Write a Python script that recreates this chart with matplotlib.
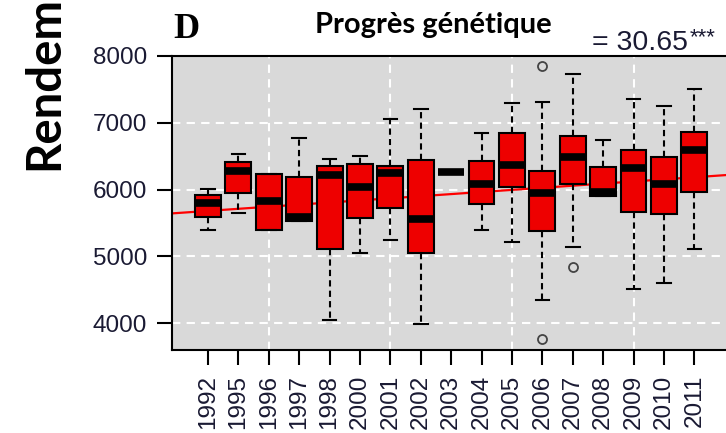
import matplotlib.pyplot as plt
import numpy as np

# rendements par année
annees = [1992, 1995, 1996, 1997, 1998, 2000, 2001, 2002, 2003,
          2004, 2005, 2006, 2007, 2008, 2009, 2010, 2011]
moustache_bas = [5395, 5650, 5395, 5530, 4048, 5051, 5245, 3988, 6264,
                 5395, 5216, 4347, 5141, 5904, 4512, 4602, 5111]
q1 = [5590, 5949, 5395, 5530, 5111, 5575, 5725, 5051, 6264,
      5785, 6039, 5380, 6084, 5904, 5665, 5635, 5964]
mediane = [5800, 6270, 5830, 5590, 6219, 6039, 6249, 5560, 6264,
           6084, 6360, 5949, 6488, 5964, 6323, 6084, 6593]
q3 = [5919, 6413, 6234, 6189, 6353, 6383, 6353, 6443, 6264,
      6428, 6847, 6279, 6802, 6338, 6593, 6488, 6862]
moustache_haut = [6009, 6533, 6234, 6772, 6458, 6503, 7057, 7207, 6264,
                  6847, 7296, 7311, 7731, 6742, 7356, 7251, 7506]
atypiques = {2006: [7850, 3763], 2007: [4841]}

# droite de régression
pente = 31.5
ordonnee = 5648

fig = plt.figure(figsize=(7.26, 4.33), dpi=100)
ax = fig.add_axes([172/726, 83/433, 588/726, 294/433])
ax.set_facecolor('#d9d9d9')

positions = np.arange(1, len(annees) + 1)
stats = []
for i, a in enumerate(annees):
    stats.append(dict(whislo=moustache_bas[i], q1=q1[i], med=mediane[i],
                      q3=q3[i], whishi=moustache_haut[i],
                      fliers=atypiques.get(a, [])))

ax.bxp(stats, positions=positions, widths=0.85, capwidths=0.45,
       patch_artist=True, zorder=3,
       boxprops=dict(facecolor='#ee0000', edgecolor='black', linewidth=1.5),
       medianprops=dict(color='black', linewidth=5.5, solid_capstyle='butt'),
       whiskerprops=dict(color='black', linewidth=1.5, linestyle=(0, (3, 2))),
       capprops=dict(color='black', linewidth=1.5),
       flierprops=dict(marker='o', markerfacecolor='none',
                       markeredgecolor='#444444', markersize=6.5,
                       markeredgewidth=1.3))

ax.set_xlim(-0.185, 19.16)
ax.set_ylim(3596, 8000)

# grille blanche pointillée
for v in [4000, 5000, 6000, 7000]:
    ax.axhline(v, color='white', lw=1.5, ls=(0, (4, 3)), zorder=1)
for p in positions[2::4]:
    ax.axvline(p, color='white', lw=1.5, ls=(0, (4, 3)), zorder=1)

xs = np.array(ax.get_xlim())
ax.plot(xs, ordonnee + pente * xs, color='#ff0000', lw=1.6, zorder=2)

ax.set_yticks([4000, 5000, 6000, 7000, 8000])
ax.set_xticks(positions)
ax.set_xticklabels([str(a) for a in annees], rotation=90)
ax.tick_params(length=11, width=1.5, pad=7, labelsize=17.5,
               labelcolor='#1a1a33')
for lab in ax.get_xticklabels() + ax.get_yticklabels():
    lab.set_family('Liberation Sans')
for s in ax.spines.values():
    s.set_linewidth(1.5)

fig.text(173/726, 1 - 38/433, 'D', family='Liberation Serif',
         weight='bold', size=26, va='baseline')
fig.text(315/726, 1 - 33/433, 'Progrès génétique', family=['Lato', 'DejaVu Sans'],
         weight='bold', size=21, va='baseline')
fig.text(592/726, 1 - 50/433, '= 30.65', family='Liberation Sans',
         size=20.5, va='baseline', color='#1a1a33')
fig.text(690/726, 1 - 27/433, '***', family='Liberation Sans',
         size=16, va='top', color='#1a1a33')
fig.text(22/726, 1 - 170/433, 'Rendement', family=['Lato', 'DejaVu Sans'],
         weight='bold', size=34, rotation=90, ha='left', va='bottom')

plt.savefig('out.png', dpi=100)
